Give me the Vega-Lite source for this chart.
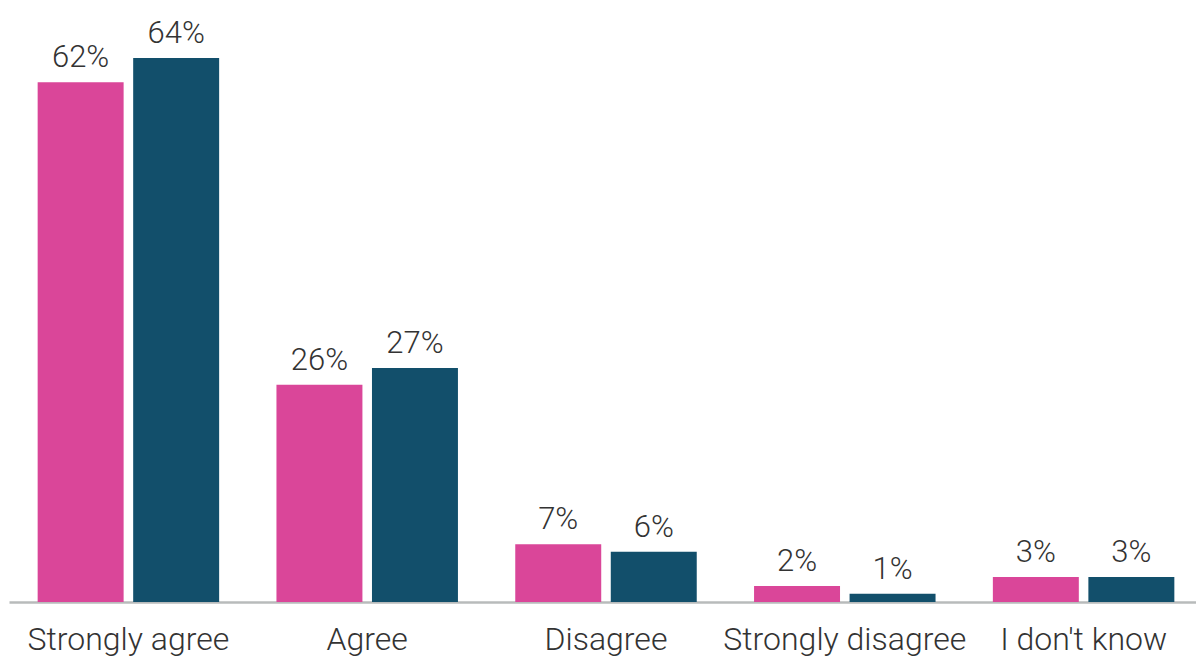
{
  "$schema": "https://vega.github.io/schema/vega-lite/v6.json",
  "width": 1187,
  "height": 585,
  "autosize": {"type": "none"},
  "padding": {"left": 9, "top": 17, "right": 0, "bottom": 55},
  "background": "white",
  "config": {"view": {"stroke": null}, "font": "Roboto"},
  "data": {
    "values": [
      {"answer": "Strongly agree", "series": "First", "value": 62.2, "label": "62%"},
      {"answer": "Strongly agree", "series": "Second", "value": 65.1, "label": "64%"},
      {"answer": "Agree", "series": "First", "value": 26.0, "label": "26%"},
      {"answer": "Agree", "series": "Second", "value": 28.0, "label": "27%"},
      {"answer": "Disagree", "series": "First", "value": 6.9, "label": "7%"},
      {"answer": "Disagree", "series": "Second", "value": 6.0, "label": "6%"},
      {"answer": "Strongly disagree", "series": "First", "value": 1.9, "label": "2%"},
      {"answer": "Strongly disagree", "series": "Second", "value": 1.0, "label": "1%"},
      {"answer": "I don't know", "series": "First", "value": 3.0, "label": "3%"},
      {"answer": "I don't know", "series": "Second", "value": 3.0, "label": "3%"}
    ]
  },
  "encoding": {
    "x": {
      "field": "answer",
      "type": "nominal",
      "sort": null,
      "scale": {"range": [0, 1194], "paddingInner": 0.24, "paddingOuter": 0.12},
      "axis": {
        "title": null,
        "ticks": false,
        "labelAngle": 0,
        "labelFont": "Roboto",
        "labelFontWeight": 300,
        "labelFontSize": 32,
        "labelColor": "#333333",
        "labelPadding": 22,
        "labelBaseline": "top",
        "labelLimit": 0,
        "domainColor": "#b8bbbb",
        "domainWidth": 2.5,
        "labelOverlap": false
      }
    },
    "xOffset": {
      "field": "series",
      "type": "nominal",
      "scale": {"paddingInner": 0.1, "paddingOuter": 0}
    },
    "y": {
      "field": "value",
      "type": "quantitative",
      "scale": {"domain": [0, 70], "nice": false},
      "axis": null
    }
  },
  "layer": [
    {
      "mark": {"type": "bar"},
      "encoding": {
        "color": {
          "field": "series",
          "type": "nominal",
          "scale": {"domain": ["First", "Second"], "range": ["#DA4699", "#124F6B"]},
          "legend": null
        }
      }
    },
    {
      "mark": {"type": "text", "baseline": "bottom", "dy": -8, "font": "Roboto", "fontWeight": 300, "fontSize": 31, "color": "#333333"},
      "encoding": {"text": {"field": "label"}}
    }
  ]
}
